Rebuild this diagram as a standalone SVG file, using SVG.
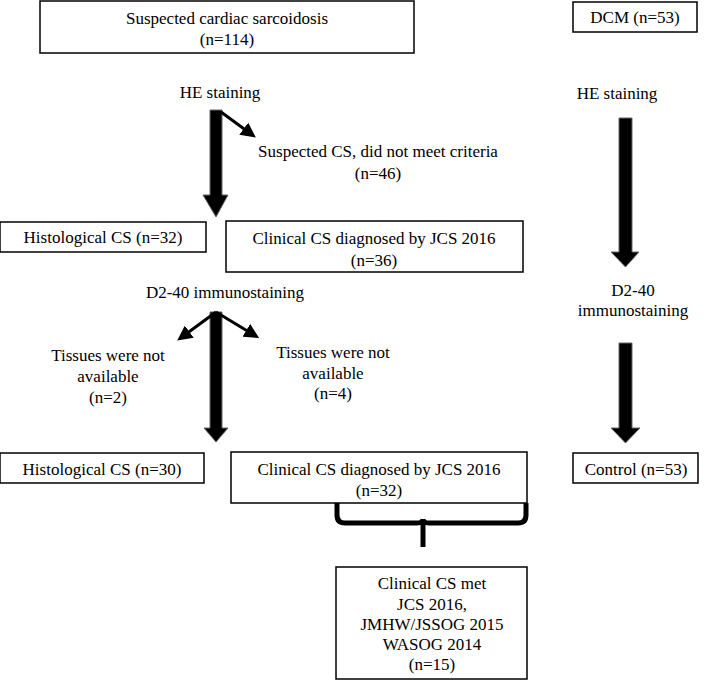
<svg xmlns="http://www.w3.org/2000/svg" width="709" height="680" viewBox="0 0 709 680" font-family="'Liberation Serif', 'Times New Roman', 'DejaVu Serif', serif">
<style>
.box{fill:#fff;stroke:#000;stroke-width:1.5}
text{font-family:'Liberation Serif','Times New Roman','DejaVu Serif',serif;font-size:17px;fill:#000;text-anchor:middle}
.big{fill:#000;stroke:#666;stroke-width:1}
.thin{stroke:#000;stroke-width:3;fill:none;marker-end:url(#ah)}
</style>
<defs>
<marker id="ah" markerWidth="5" markerHeight="5" refX="3" refY="2.5" orient="auto" markerUnits="strokeWidth">
<path d="M0,0 L5,2.5 L0,5 Z" fill="#000"/>
</marker>
</defs>
<g id="n_top"><rect class="box" x="40" y="1" width="374" height="52"/><text x="227" y="24">Suspected cardiac sarcoidosis</text><text x="227" y="45">(n=114)</text></g>
<g id="n_dcm"><rect class="box" x="573" y="2" width="124" height="30"/><text x="635" y="23">DCM (n=53)</text></g>
<g id="l_he1"><text x="220" y="98">HE staining</text></g>
<g id="l_he2"><text x="617" y="99">HE staining</text></g>
<g id="l_excl"><text x="378" y="157">Suspected CS, did not meet criteria</text><text x="378" y="179">(n=46)</text></g>
<g id="n_hist32"><rect class="box" x="0" y="222" width="206" height="30"/><text x="103" y="243">Histological CS (n=32)</text></g>
<g id="n_clin36"><rect class="box" x="226" y="221" width="297" height="51"/><text x="374" y="244">Clinical CS diagnosed by JCS 2016</text><text x="374" y="266">(n=36)</text></g>
<g id="l_d240a"><text x="225" y="298">D2-40 immunostaining</text></g>
<g id="l_d240b"><text x="633" y="296">D2-40</text><text x="633" y="316">immunostaining</text></g>
<g id="l_na2"><text x="108" y="361">Tissues were not</text><text x="108" y="382">available</text><text x="108" y="403">(n=2)</text></g>
<g id="l_na4"><text x="333" y="358">Tissues were not</text><text x="333" y="379">available</text><text x="333" y="399">(n=4)</text></g>
<g id="n_hist30"><rect class="box" x="0" y="453" width="204" height="30"/><text x="102" y="475">Histological CS (n=30)</text></g>
<g id="n_clin32"><rect class="box" x="231" y="452" width="296" height="51"/><text x="379" y="475">Clinical CS diagnosed by JCS 2016</text><text x="379" y="496">(n=32)</text></g>
<g id="n_control"><rect class="box" x="573" y="453" width="125" height="30"/><text x="636" y="475">Control (n=53)</text></g>
<g id="n_met"><rect class="box" x="336" y="567" width="191" height="112"/><text x="432" y="589">Clinical CS met</text><text x="432" y="610">JCS 2016,</text><text x="432" y="630">JMHW/JSSOG 2015</text><text x="432" y="650">WASOG 2014</text><text x="432" y="670">(n=15)</text></g>
<g id="connectors">
<path class="big" d="M210,110 H222 V195 H228 L216,217 L203,195 H210 Z"/>
<path class="big" d="M619,118 H632 V252 H639 L625.5,267 L611,252 H619 Z"/>
<path class="big" d="M210,312 H222 V428 H228 L216,442 L204,428 H210 Z"/>
<path class="big" d="M619,343 H632 V428 H640 L625.5,443 L611,428 H619 Z"/>
<line class="thin" x1="221" y1="112" x2="251" y2="134"/>
<line class="thin" x1="216" y1="312" x2="182" y2="337"/>
<line class="thin" x1="216" y1="312" x2="254" y2="335"/>
<path d="M337,503 V515 Q337,523 345,523 H417 Q423,523 423,519 Q423,523 429,523 H518 Q526,523 526,515 V503" fill="none" stroke="#000" stroke-width="5"/>
<line x1="423" y1="521" x2="423" y2="547" stroke="#000" stroke-width="5"/>
</g>
</svg>
